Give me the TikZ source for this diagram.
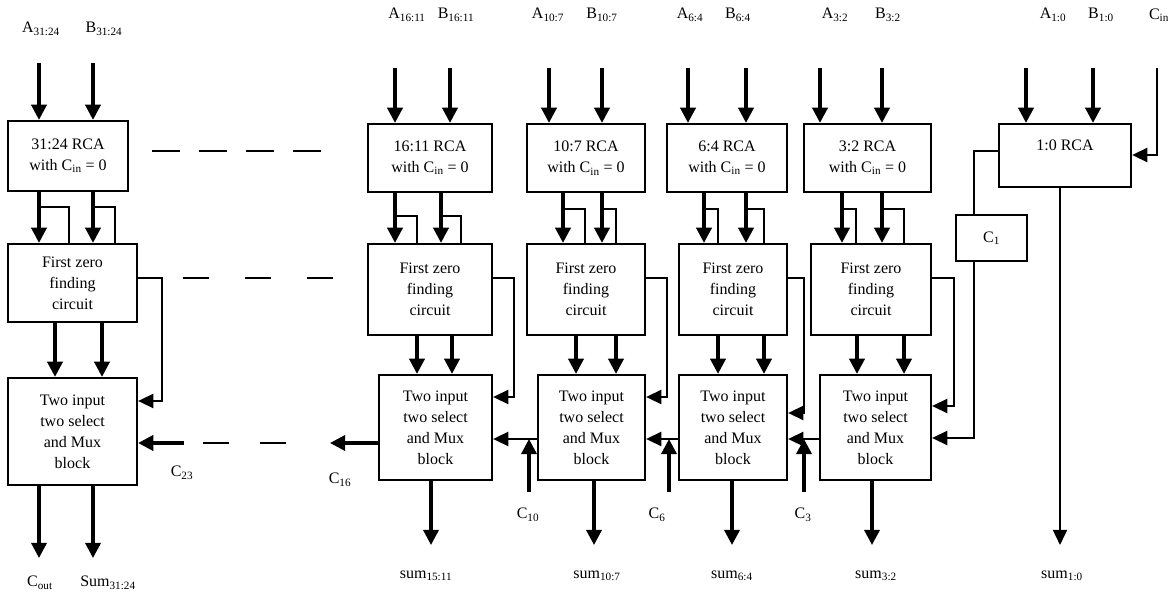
\documentclass[tikz,border=0pt]{standalone}
\usepackage{fontspec}
\setmainfont{Liberation Serif}
\usetikzlibrary{arrows.meta}
\newcommand{\diagfont}{\fontsize{13.66pt}{17.8pt}\selectfont}

\begin{document}
\begin{tikzpicture}[x=0.03cm, y=-0.03cm,
	box/.style n args={2}{draw, rectangle, line width=1.9pt, inner sep=0pt, align=center, font=\diagfont,
		minimum width=#1*0.03cm, minimum height=#2*0.03cm},
	bus/.style={line width=2.8pt, -{Triangle[length=13pt,width=13pt]}},
	wire/.style={line width=1.8pt},
	warr/.style={wire, -{Triangle[length=13pt,width=12pt]}},
	dashbus/.style={line width=1.9pt},
	lbl/.style={font=\diagfont, inner sep=0pt}]
		\useasboundingbox (0,0) rectangle (1174,594);
%		\draw[help lines, step=50] (0,0) grid (1174,594);

		% blocks
		\node[box={120}{70}] (rca31) at (68,156) {31:24 RCA\\with C\textsubscript{in} = 0};
		\node[box={129}{78}] (fz31) at (72.5,283) {First zero\\finding\\circuit};
		\node[box={129}{107}] (mux31) at (72.5,431.5) {Two input\\two select\\and Mux\\block};
		\node[box={124}{68}] (rca16) at (430,158) {16:11 RCA\\with C\textsubscript{in} = 0};
		\node[box={124}{91}] (fz16) at (430,289.5) {First zero\\finding\\circuit};
		\node[box={113}{105}] (mux16) at (435.5,427.5) {Two input\\two select\\and Mux\\block};
		\node[box={118}{68}] (rca10) at (586,158) {10:7 RCA\\with C\textsubscript{in} = 0};
		\node[box={118}{91}] (fz10) at (586,289.5) {First zero\\finding\\circuit};
		\node[box={107}{105}] (mux10) at (591.5,427.5) {Two input\\two select\\and Mux\\block};
		\node[box={120}{68}] (rca6) at (727,158) {6:4 RCA\\with C\textsubscript{in} = 0};
		\node[box={108}{91}] (fz6) at (733,289.5) {First zero\\finding\\circuit};
		\node[box={108}{105}] (mux6) at (733,427.5) {Two input\\two select\\and Mux\\block};
		\node[box={127}{68}] (rca3) at (867.5,158) {3:2 RCA\\with C\textsubscript{in} = 0};
		\node[box={120}{91}] (fz3) at (871,289.5) {First zero\\finding\\circuit};
		\node[box={111}{105}] (mux3) at (875.5,427.5) {Two input\\two select\\and Mux\\block};
		\node[box={132}{63}] (rca1) at (1065,155.5) {1:0 RCA\\\mbox{}};
		\node[box={71}{46}] (c1) at (991.5,238) {C\textsubscript{1}};

		% labels
		\node[lbl] (lA31) at (41,29) {A\textsubscript{31:24}};
		\node[lbl] (lB31) at (104,29) {B\textsubscript{31:24}};
		\node[lbl] (lA16) at (407,15) {A\textsubscript{16:11}};
		\node[lbl] (lB16) at (456,15) {B\textsubscript{16:11}};
		\node[lbl] (lA10) at (548,15) {A\textsubscript{10:7}};
		\node[lbl] (lB10) at (602,15) {B\textsubscript{10:7}};
		\node[lbl] (lA6) at (690,15) {A\textsubscript{6:4}};
		\node[lbl] (lB6) at (738,15) {B\textsubscript{6:4}};
		\node[lbl] (lA3) at (835,15) {A\textsubscript{3:2}};
		\node[lbl] (lB3) at (888,15) {B\textsubscript{3:2}};
		\node[lbl] (lA1) at (1053,15) {A\textsubscript{1:0}};
		\node[lbl] (lB1) at (1101,15) {B\textsubscript{1:0}};
		\node[lbl] (lcin) at (1159,15) {C\textsubscript{in}};
		\node[lbl] (lcout) at (40,583) {C\textsubscript{out}};
		\node[lbl] (lsum31) at (108,583) {Sum\textsubscript{31:24}};
		\node[lbl] (lsum16) at (426,576) {sum\textsubscript{15:11}};
		\node[lbl] (lsum10) at (597,576) {sum\textsubscript{10:7}};
		\node[lbl] (lsum6) at (732,576) {sum\textsubscript{6:4}};
		\node[lbl] (lsum3) at (876,576) {sum\textsubscript{3:2}};
		\node[lbl] (lsum1) at (1062,576) {sum\textsubscript{1:0}};
		\node[lbl] (lc23) at (182,473) {C\textsubscript{23}};
		\node[lbl] (lc16) at (340,480) {C\textsubscript{16}};
		\node[lbl] (lc10) at (528,515) {C\textsubscript{10}};
		\node[lbl] (lc6) at (657,515) {C\textsubscript{6}};
		\node[lbl] (lc3) at (803,515) {C\textsubscript{3}};

		% 31:24
		\path (39,63) coordinate (inA31);
		\path (93,63) coordinate (inB31);
		\path (39,207) coordinate (sA31);
		\path (69,207) coordinate (tA31);
		\path (93,207) coordinate (sB31);
		\path (115,207) coordinate (tB31);
		\path (55,0) coordinate (fA31);
		\path (102,0) coordinate (fB31);
		\path (162,278) coordinate (kt31);
		\path (162,401) coordinate (kb31);
		\path (39,558) coordinate (cout);
		\path (93,558) coordinate (sum31);
		\path (184,443) coordinate (c23);
		\draw[bus] (inA31) -- (inA31 |- rca31.north);
		\draw[bus] (inB31) -- (inB31 |- rca31.north);
		\draw[bus] (sA31 |- rca31.south) -- (sA31 |- fz31.north);
		\draw[bus] (sB31 |- rca31.south) -- (sB31 |- fz31.north);
		\draw[wire] (sA31) -- (tA31) -- (tA31 |- fz31.north);
		\draw[wire] (sB31) -- (tB31) -- (tB31 |- fz31.north);
		\draw[bus] (fA31 |- fz31.south) -- (fA31 |- mux31.north);
		\draw[bus] (fB31 |- fz31.south) -- (fB31 |- mux31.north);
		\draw[warr] (kt31 -| fz31.east) -- (kt31) -- (kb31) -- (kb31 -| mux31.east);
		\draw[bus] (cout |- mux31.south) -- (cout);
		\draw[bus] (sum31 |- mux31.south) -- (sum31);
		\draw[bus] (c23) -- (c23 -| mux31.east);

		% gaps between 31:24 and 16:11
		\path (152,151) coordinate (gr0);
		\path (325,151) coordinate (gr1);
		\path (183,278) coordinate (gf0);
		\path (335,278) coordinate (gf1);
		\path (203,443) coordinate (gm0);
		\path (290,443) coordinate (gm1);
		\draw[dashbus, dash pattern=on 0.84cm off 0.57cm] (gr0) -- (gr1);
		\draw[dashbus, dash pattern=on 0.78cm off 1.08cm] (gf0) -- (gf1);
		\draw[dashbus, dash pattern=on 0.78cm off 0.93cm] (gm0) -- (gm1);

		% 16:11
		\path (395,68) coordinate (inA16);
		\path (450,68) coordinate (inB16);
		\path (395,216) coordinate (sA16);
		\path (417,216) coordinate (tA16);
		\path (441,216) coordinate (sB16);
		\path (461,216) coordinate (tB16);
		\path (417,0) coordinate (fA16);
		\path (452,0) coordinate (fB16);
		\path (514,278) coordinate (kt16);
		\path (514,397) coordinate (kb16);
		\path (431,545) coordinate (o16);
		\path (330,443) coordinate (c16);
		\draw[bus] (inA16) -- (inA16 |- rca16.north);
		\draw[bus] (inB16) -- (inB16 |- rca16.north);
		\draw[bus] (sA16 |- rca16.south) -- (sA16 |- fz16.north);
		\draw[bus] (sB16 |- rca16.south) -- (sB16 |- fz16.north);
		\draw[wire] (sA16) -- (tA16) -- (tA16 |- fz16.north);
		\draw[wire] (sB16) -- (tB16) -- (tB16 |- fz16.north);
		\draw[bus] (fA16 |- fz16.south) -- (fA16 |- mux16.north);
		\draw[bus] (fB16 |- fz16.south) -- (fB16 |- mux16.north);
		\draw[warr] (kt16 -| fz16.east) -- (kt16) -- (kb16) -- (kb16 -| mux16.east);
		\draw[bus] (o16 |- mux16.south) -- (o16);
		\draw[bus] (c16 -| mux16.west) -- (c16);

		% 10:7
		\path (549,68) coordinate (inA10);
		\path (602,68) coordinate (inB10);
		\path (563,209) coordinate (sA10);
		\path (585,209) coordinate (tA10);
		\path (602,209) coordinate (sB10);
		\path (616,209) coordinate (tB10);
		\path (576,0) coordinate (fA10);
		\path (616,0) coordinate (fB10);
		\path (667,278) coordinate (kt10);
		\path (667,397) coordinate (kb10);
		\path (594,545) coordinate (o10);
		\path (529,492) coordinate (c10);
		\path (529,439) coordinate (j10);
		\draw[bus] (inA10) -- (inA10 |- rca10.north);
		\draw[bus] (inB10) -- (inB10 |- rca10.north);
		\draw[bus] (sA10 |- rca10.south) -- (sA10 |- fz10.north);
		\draw[bus] (sB10 |- rca10.south) -- (sB10 |- fz10.north);
		\draw[wire] (sA10) -- (tA10) -- (tA10 |- fz10.north);
		\draw[wire] (sB10) -- (tB10) -- (tB10 |- fz10.north);
		\draw[bus] (fA10 |- fz10.south) -- (fA10 |- mux10.north);
		\draw[bus] (fB10 |- fz10.south) -- (fB10 |- mux10.north);
		\draw[warr] (kt10 -| fz10.east) -- (kt10) -- (kb10) -- (kb10 -| mux10.east);
		\draw[bus] (o10 |- mux10.south) -- (o10);
		\draw[warr] (j10 -| mux10.west) -- (j10 -| mux16.east);
		\draw[bus] (c10) -- (j10);

		% 6:4
		\path (688,68) coordinate (inA6);
		\path (746,68) coordinate (inB6);
		\path (704,209) coordinate (sA6);
		\path (718,209) coordinate (tA6);
		\path (746,209) coordinate (sB6);
		\path (764,209) coordinate (tB6);
		\path (718,0) coordinate (fA6);
		\path (764,0) coordinate (fB6);
		\path (804,278) coordinate (kt6);
		\path (804,413) coordinate (kb6);
		\path (732,545) coordinate (o6);
		\path (669,492) coordinate (c6);
		\path (669,439) coordinate (j6);
		\draw[bus] (inA6) -- (inA6 |- rca6.north);
		\draw[bus] (inB6) -- (inB6 |- rca6.north);
		\draw[bus] (sA6 |- rca6.south) -- (sA6 |- fz6.north);
		\draw[bus] (sB6 |- rca6.south) -- (sB6 |- fz6.north);
		\draw[wire] (sA6) -- (tA6) -- (tA6 |- fz6.north);
		\draw[wire] (sB6) -- (tB6) -- (tB6 |- fz6.north);
		\draw[bus] (fA6 |- fz6.south) -- (fA6 |- mux6.north);
		\draw[bus] (fB6 |- fz6.south) -- (fB6 |- mux6.north);
		\draw[warr] (kt6 -| fz6.east) -- (kt6) -- (kb6) -- (kb6 -| mux6.east);
		\draw[bus] (o6 |- mux6.south) -- (o6);
		\draw[warr] (j6 -| mux6.west) -- (j6 -| mux10.east);
		\draw[bus] (c6) -- (j6);

		% 3:2
		\path (820,68) coordinate (inA3);
		\path (882,68) coordinate (inB3);
		\path (842,209) coordinate (sA3);
		\path (856,209) coordinate (tA3);
		\path (882,209) coordinate (sB3);
		\path (904,209) coordinate (tB3);
		\path (857,0) coordinate (fA3);
		\path (904,0) coordinate (fB3);
		\path (954,278) coordinate (kt3);
		\path (954,406) coordinate (kb3);
		\path (872,545) coordinate (o3);
		\path (804,492) coordinate (c3);
		\path (804,439) coordinate (j3);
		\draw[bus] (inA3) -- (inA3 |- rca3.north);
		\draw[bus] (inB3) -- (inB3 |- rca3.north);
		\draw[bus] (sA3 |- rca3.south) -- (sA3 |- fz3.north);
		\draw[bus] (sB3 |- rca3.south) -- (sB3 |- fz3.north);
		\draw[wire] (sA3) -- (tA3) -- (tA3 |- fz3.north);
		\draw[wire] (sB3) -- (tB3) -- (tB3 |- fz3.north);
		\draw[bus] (fA3 |- fz3.south) -- (fA3 |- mux3.north);
		\draw[bus] (fB3 |- fz3.south) -- (fB3 |- mux3.north);
		\draw[warr] (kt3 -| fz3.east) -- (kt3) -- (kb3) -- (kb3 -| mux3.east);
		\draw[bus] (o3 |- mux3.south) -- (o3);
		\draw[warr] (j3 -| mux3.west) -- (j3 -| mux6.east);
		\draw[bus] (c3) -- (j3);

		% 1:0
		\path (1026,68) coordinate (inA1);
		\path (1093,68) coordinate (inB1);
		\path (1157,68) coordinate (cin);
		\path (1157,155) coordinate (cinb);
		\path (974,151) coordinate (ct);
		\path (974,438) coordinate (cb);
		\path (1060,545) coordinate (o1);
		\draw[bus] (inA1) -- (inA1 |- rca1.north);
		\draw[bus] (inB1) -- (inB1 |- rca1.north);
		\draw[warr] (cin) -- (cinb) -- (cinb -| rca1.east);
		\draw[wire] (ct -| rca1.west) -- (ct) -- (ct |- c1.north);
		\draw[warr] (ct |- c1.south) -- (cb) -- (cb -| mux3.east);
		\draw[warr] (o1 |- rca1.south) -- (o1);
	\end{tikzpicture}
\end{document}
